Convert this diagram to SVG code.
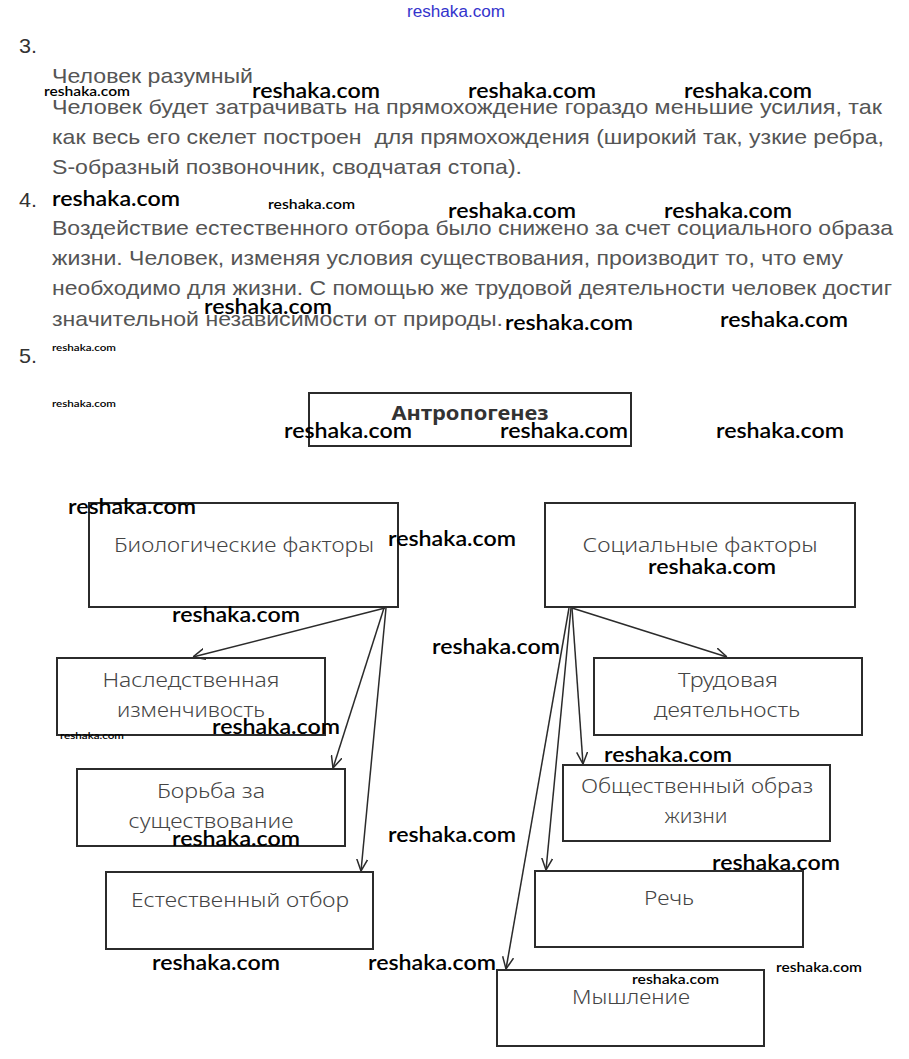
<svg xmlns="http://www.w3.org/2000/svg" width="909" height="1059" viewBox="0 0 909 1059">
<style>
.bg{fill:#ffffff}
.num{font-family:"Liberation Sans",Arial,sans-serif;font-size:21px;fill:#333}
.body{font-family:"Liberation Sans",Arial,sans-serif;font-size:21px;fill:#555}
.box{fill:none;stroke:#2b2b2b;stroke-width:2}
.lbl{font-family:"Noto Sans","DejaVu Sans",sans-serif;font-size:20px;fill:#444;font-weight:300}
.title{font-family:"Noto Sans","DejaVu Sans",sans-serif;font-size:19px;fill:#333;font-weight:bold}
.wm{font-family:Lato,"Open Sans",sans-serif;font-size:21px;fill:#000;font-weight:600}
.wms{font-family:Lato,"Open Sans",sans-serif;font-size:14px;fill:#000;font-weight:600}
.wmt{font-family:Lato,"Open Sans",sans-serif;font-size:10px;fill:#000;font-weight:600}
.wmb{font-family:"Liberation Sans",Arial,sans-serif;font-size:16px;fill:#3333cc}
.conn{fill:none;stroke:#2b2b2b;stroke-width:1.5}
</style>
<defs>
<marker id="arr" viewBox="0 0 12 12" refX="12" refY="6" markerWidth="12" markerHeight="12" markerUnits="userSpaceOnUse" orient="auto">
<path d="M0,0.5 L12,6 L0,11.5" fill="none" stroke="#2b2b2b" stroke-width="1.5"/>
</marker>
</defs>
<rect class="bg" x="0" y="0" width="909" height="1059"/>

<g id="text">
<text class="wmb" x="407" y="17" textLength="98" lengthAdjust="spacingAndGlyphs">reshaka.com</text>
<text class="num" x="19" y="53" textLength="18" lengthAdjust="spacingAndGlyphs">3.</text>
<text class="body" x="52" y="83" textLength="201" lengthAdjust="spacingAndGlyphs">Человек разумный</text>
<text class="body" x="52" y="114" textLength="830" lengthAdjust="spacingAndGlyphs">Человек будет затрачивать на прямохождение гораздо меньшие усилия, так</text>
<text class="body" x="52" y="144" textLength="832" lengthAdjust="spacingAndGlyphs" xml:space="preserve">как весь его скелет построен  для прямохождения (широкий так, узкие ребра,</text>
<text class="body" x="52" y="174" textLength="470" lengthAdjust="spacingAndGlyphs">S-образный позвоночник, сводчатая стопа).</text>
<text class="num" x="19" y="207" textLength="18" lengthAdjust="spacingAndGlyphs">4.</text>
<text class="body" x="52" y="235" textLength="841" lengthAdjust="spacingAndGlyphs">Воздействие естественного отбора было снижено за счет социального образа</text>
<text class="body" x="52" y="265" textLength="791" lengthAdjust="spacingAndGlyphs">жизни. Человек, изменяя условия существования, производит то, что ему</text>
<text class="body" x="52" y="295" textLength="840" lengthAdjust="spacingAndGlyphs">необходимо для жизни. С помощью же трудовой деятельности человек достиг</text>
<text class="body" x="52" y="326" textLength="451" lengthAdjust="spacingAndGlyphs">значительной независимости от природы.</text>
<text class="num" x="19" y="363" textLength="18" lengthAdjust="spacingAndGlyphs">5.</text>
</g>

<g id="connectors">
<line class="conn" x1="385" y1="608" x2="193" y2="657" marker-end="url(#arr)"/>
<line class="conn" x1="384" y1="608" x2="333" y2="768" marker-end="url(#arr)"/>
<line class="conn" x1="386" y1="608" x2="361" y2="871" marker-end="url(#arr)"/>
<line class="conn" x1="572" y1="608" x2="727" y2="657" marker-end="url(#arr)"/>
<line class="conn" x1="572" y1="608" x2="583" y2="764" marker-end="url(#arr)"/>
<line class="conn" x1="571" y1="608" x2="546" y2="870" marker-end="url(#arr)"/>
<line class="conn" x1="569" y1="608" x2="506" y2="969" marker-end="url(#arr)"/>
</g>

<g id="n-antropogenez">
<rect class="box" x="309" y="393" width="322" height="53"/>
<text class="title" x="470" y="420" text-anchor="middle" textLength="157" lengthAdjust="spacingAndGlyphs">Антропогенез</text>
</g>
<g id="n-bio">
<rect class="box" x="89" y="503" width="309" height="104"/>
<text class="lbl" x="244" y="552" text-anchor="middle" textLength="260" lengthAdjust="spacingAndGlyphs">Биологические факторы</text>
</g>
<g id="n-soc">
<rect class="box" x="545" y="503" width="310" height="104"/>
<text class="lbl" x="700" y="552" text-anchor="middle" textLength="235" lengthAdjust="spacingAndGlyphs">Социальные факторы</text>
</g>
<g id="n-nasl">
<rect class="box" x="57" y="658" width="268" height="77"/>
<text class="lbl" x="191" y="687" text-anchor="middle" textLength="177" lengthAdjust="spacingAndGlyphs">Наследственная</text>
<text class="lbl" x="191" y="717" text-anchor="middle" textLength="148" lengthAdjust="spacingAndGlyphs">изменчивость</text>
</g>
<g id="n-borba">
<rect class="box" x="77" y="769" width="268" height="77"/>
<text class="lbl" x="211" y="798" text-anchor="middle" textLength="108" lengthAdjust="spacingAndGlyphs">Борьба за</text>
<text class="lbl" x="211" y="828" text-anchor="middle" textLength="165" lengthAdjust="spacingAndGlyphs">существование</text>
</g>
<g id="n-otbor">
<rect class="box" x="106" y="872" width="267" height="77"/>
<text class="lbl" x="240" y="907" text-anchor="middle" textLength="218" lengthAdjust="spacingAndGlyphs">Естественный отбор</text>
</g>
<g id="n-trud">
<rect class="box" x="594" y="658" width="268" height="77"/>
<text class="lbl" x="728" y="687" text-anchor="middle" textLength="100" lengthAdjust="spacingAndGlyphs">Трудовая</text>
<text class="lbl" x="727" y="717" text-anchor="middle" textLength="146" lengthAdjust="spacingAndGlyphs">деятельность</text>
</g>
<g id="n-obsh">
<rect class="box" x="563" y="765" width="267" height="76"/>
<text class="lbl" x="697" y="793" text-anchor="middle" textLength="232" lengthAdjust="spacingAndGlyphs">Общественный образ</text>
<text class="lbl" x="696" y="823" text-anchor="middle" textLength="63" lengthAdjust="spacingAndGlyphs">жизни</text>
</g>
<g id="n-rech">
<rect class="box" x="535" y="871" width="268" height="76"/>
<text class="lbl" x="669" y="905" text-anchor="middle" textLength="50" lengthAdjust="spacingAndGlyphs">Речь</text>
</g>
<g id="n-mysh">
<rect class="box" x="497" y="970" width="267" height="76"/>
<text class="lbl" x="631" y="1004" text-anchor="middle" textLength="118" lengthAdjust="spacingAndGlyphs">Мышление</text>
</g>

<g id="watermarks">
<text class="wms" x="44" y="96" textLength="86" lengthAdjust="spacingAndGlyphs">reshaka.com</text>
<text class="wm" x="252" y="98" textLength="128" lengthAdjust="spacingAndGlyphs">reshaka.com</text>
<text class="wm" x="468" y="98" textLength="128" lengthAdjust="spacingAndGlyphs">reshaka.com</text>
<text class="wm" x="684" y="98" textLength="128" lengthAdjust="spacingAndGlyphs">reshaka.com</text>
<text class="wm" x="52" y="206" textLength="128" lengthAdjust="spacingAndGlyphs">reshaka.com</text>
<text class="wms" x="268" y="209" textLength="87" lengthAdjust="spacingAndGlyphs">reshaka.com</text>
<text class="wm" x="448" y="218" textLength="128" lengthAdjust="spacingAndGlyphs">reshaka.com</text>
<text class="wm" x="664" y="218" textLength="128" lengthAdjust="spacingAndGlyphs">reshaka.com</text>
<text class="wm" x="204" y="314" textLength="128" lengthAdjust="spacingAndGlyphs">reshaka.com</text>
<text class="wm" x="505" y="330" textLength="128" lengthAdjust="spacingAndGlyphs">reshaka.com</text>
<text class="wm" x="720" y="327" textLength="128" lengthAdjust="spacingAndGlyphs">reshaka.com</text>
<text class="wmt" x="52" y="351" textLength="64" lengthAdjust="spacingAndGlyphs">reshaka.com</text>
<text class="wmt" x="52" y="407" textLength="64" lengthAdjust="spacingAndGlyphs">reshaka.com</text>
<text class="wm" x="284" y="438" textLength="128" lengthAdjust="spacingAndGlyphs">reshaka.com</text>
<text class="wm" x="500" y="438" textLength="128" lengthAdjust="spacingAndGlyphs">reshaka.com</text>
<text class="wm" x="716" y="438" textLength="128" lengthAdjust="spacingAndGlyphs">reshaka.com</text>
<text class="wm" x="68" y="514" textLength="128" lengthAdjust="spacingAndGlyphs">reshaka.com</text>
<text class="wm" x="388" y="546" textLength="128" lengthAdjust="spacingAndGlyphs">reshaka.com</text>
<text class="wm" x="648" y="574" textLength="128" lengthAdjust="spacingAndGlyphs">reshaka.com</text>
<text class="wm" x="172" y="622" textLength="128" lengthAdjust="spacingAndGlyphs">reshaka.com</text>
<text class="wm" x="432" y="654" textLength="128" lengthAdjust="spacingAndGlyphs">reshaka.com</text>
<text class="wm" x="212" y="734" textLength="128" lengthAdjust="spacingAndGlyphs">reshaka.com</text>
<text class="wmt" x="60" y="739" textLength="64" lengthAdjust="spacingAndGlyphs">reshaka.com</text>
<text class="wm" x="604" y="762" textLength="128" lengthAdjust="spacingAndGlyphs">reshaka.com</text>
<text class="wm" x="172" y="846" textLength="128" lengthAdjust="spacingAndGlyphs">reshaka.com</text>
<text class="wm" x="388" y="842" textLength="128" lengthAdjust="spacingAndGlyphs">reshaka.com</text>
<text class="wm" x="712" y="870" textLength="128" lengthAdjust="spacingAndGlyphs">reshaka.com</text>
<text class="wm" x="152" y="970" textLength="128" lengthAdjust="spacingAndGlyphs">reshaka.com</text>
<text class="wm" x="368" y="970" textLength="128" lengthAdjust="spacingAndGlyphs">reshaka.com</text>
<text class="wms" x="632" y="984" textLength="87" lengthAdjust="spacingAndGlyphs">reshaka.com</text>
<text class="wms" x="776" y="972" textLength="86" lengthAdjust="spacingAndGlyphs">reshaka.com</text>
</g>
</svg>
